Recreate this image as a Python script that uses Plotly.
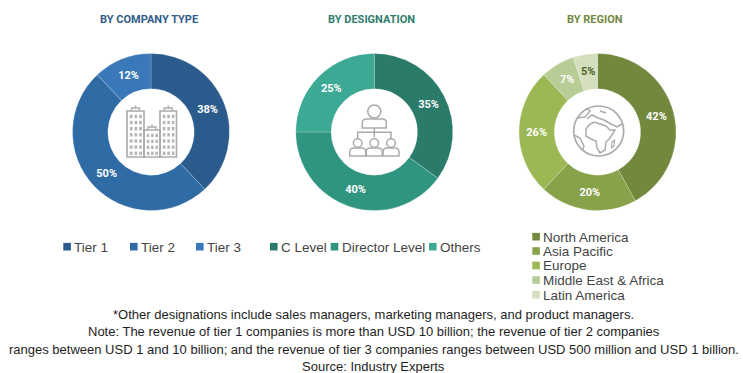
import math
import plotly.graph_objects as go

W, H = 743, 373

# ---- data ----
company_labels = ["Tier 1", "Tier 2", "Tier 3"]
company_values = [38, 50, 12]
company_colors = ["#2A5B8C", "#2F6BA5", "#3979B9"]

designation_labels = ["C Level", "Director Level", "Others"]
designation_values = [35, 40, 25]
designation_colors = ["#2A7B69", "#2F9580", "#3CA994"]

region_labels = ["North America", "Asia Pacific", "Europe", "Middle East & Africa", "Latin America"]
region_values = [42, 20, 26, 7, 5]
region_colors = ["#71883D", "#87A249", "#9BB854", "#B8CC95", "#D3DFBD"]
region_text_colors = ["white", "white", "white", "white", "#4F5F2C"]

titles = ["BY COMPANY TYPE", "BY DESIGNATION", "BY REGION"]
title_colors = ["#2F5C8A", "#2E7D6D", "#71883F"]

notes = [
    "*Other designations include sales managers, marketing managers, and product managers.",
    "Note: The revenue of tier 1 companies is more than USD 10 billion; the revenue of tier 2 companies",
    "ranges between USD 1 and 10 billion; and the revenue of tier 3 companies ranges between USD 500 million and USD 1 billion.",
    "Source: Industry Experts",
]

# ---- layout helpers ----
def px(x): return x / W
def py(y): return 1 - y / H
def P(x, y): return f"{px(x):.5f} {py(y):.5f}"

shapes, annotations = [], []
ICON = "#ABABAB"

def text(x, y, s, size, color, family, anchor="center", bold=False):
    annotations.append(dict(
        x=px(x), y=py(y), xref="paper", yref="paper", text=f"<b>{s}</b>" if bold else s,
        showarrow=False, xanchor=anchor, yanchor="middle",
        font=dict(size=size, color=color, family=family), borderpad=0, borderwidth=0))

def rect(x0, y0, x1, y1, fill=None, line=None, lw=1.6):
    shapes.append(dict(type="rect", xref="paper", yref="paper", x0=px(x0), x1=px(x1), y0=py(y0), y1=py(y1),
                       fillcolor=fill if fill else "rgba(0,0,0,0)",
                       line=dict(color=line if line else "rgba(0,0,0,0)", width=lw if line else 0)))

def path(points, color=ICON, lw=1.5, fill=None):
    d = "M" + " L".join(P(x, y) for x, y in points)
    shapes.append(dict(type="path", xref="paper", yref="paper", path=d,
                       line=dict(color=color, width=lw),
                       fillcolor=fill if fill else "rgba(0,0,0,0)"))

def curve(d_tokens, color=ICON, lw=1.5):
    out = []
    for c, vals in d_tokens:
        pts = [P(vals[i], vals[i + 1]) for i in range(0, len(vals), 2)]
        out.append(c + " ".join(pts))
    shapes.append(dict(type="path", xref="paper", yref="paper", path=" ".join(out),
                       line=dict(color=color, width=lw), fillcolor="rgba(0,0,0,0)"))

def circle(cx, cy, r, color=ICON, lw=1.5):
    shapes.append(dict(type="circle", xref="paper", yref="paper",
                       x0=px(cx - r), x1=px(cx + r), y0=py(cy + r), y1=py(cy - r),
                       line=dict(color=color, width=lw), fillcolor="rgba(0,0,0,0)"))

# ---- donuts ----
CY, R = 132, 78.5
HOLE = 0.55
centers = [151, 374.3, 597.5]
PF = "Roboto, Arial"
PS = 11

def donut(cx, labels, values, colors, tcolors=None, skip=()):
    positions = ["none" if i in skip else "inside" for i in range(len(values))]
    return go.Pie(
        labels=labels, values=values, hole=HOLE, sort=False, direction="clockwise", rotation=0,
        domain=dict(x=[px(cx - R), px(cx + R)], y=[py(CY + R), py(CY - R)]),
        marker=dict(colors=colors, line=dict(color="rgba(255,255,255,0.35)", width=0.6)),
        texttemplate="<b>%{value}%</b>", textposition=positions, insidetextorientation="horizontal",
        textfont=dict(family=PF, size=PS, color=tcolors or "white"),
        hoverinfo="label+percent", showlegend=False)

# The two narrow region slices get their labels at mid-ring, from their values,
# because the pie's own fitting pushes them towards the rim.
narrow = (3, 4)
fig = go.Figure([
    donut(centers[0], company_labels, company_values, company_colors),
    donut(centers[1], designation_labels, designation_values, designation_colors),
    donut(centers[2], region_labels, region_values, region_colors, region_text_colors, skip=narrow),
])
mid_r = R * (1 + HOLE) / 2
total = sum(region_values)
for i in narrow:
    frac = (sum(region_values[:i]) + region_values[i] / 2) / total
    a = 2 * math.pi * frac
    text(centers[2] + mid_r * math.sin(a), CY - mid_r * math.cos(a), f"{region_values[i]}%",
         PS, region_text_colors[i], PF, bold=True)

# ---- titles ----
TF = "Roboto, Arial"
for x, s, c in zip([149, 371.7, 595], titles, title_colors):
    text(x, 19.5, s, 11, c, TF, bold=True)

# ---- legends ----
LF = "'Liberation Sans', Arial"
LC = "#444444"
def legend_item(x, y, label, color):
    rect(x, y - 3.8, x + 7.6, y + 3.8, fill=color)
    text(x + 10.8, y + 0.3, label, 13.5, LC, LF, anchor="left")

for x, l, c in zip([63.3, 130, 196], company_labels, company_colors):
    legend_item(x, 246.7, l, c)
for x, l, c in zip([270, 330.7, 429], designation_labels, designation_colors):
    legend_item(x, 246.7, l, c)
for y, l, c in zip([236.7, 251, 265.5, 280, 294.7], region_labels, region_colors):
    legend_item(532.3, y, l, c)

# ---- notes ----
for y, s in zip([314, 331, 349, 366], notes):
    text(373.5, y, s, 13, "#1E1E1E", "'Liberation Sans', Arial")

# ---- icon: buildings ----
def tower(x0, x1, y0, y1, cols, rows):
    rect(x0, y0, x1, y1, line=ICON, lw=1.6)
    cw = (x1 - x0 - 3) / cols
    ch = (y1 - y0 - 3) / rows
    for i in range(cols):
        for j in range(rows):
            wx = x0 + 2 + cw * i + cw * 0.18
            wy = y0 + 2.5 + ch * j + ch * 0.2
            rect(wx, wy, wx + cw * 0.58, wy + ch * 0.55, fill="#B5B5B5")
    mx = (x0 + x1) / 2
    path([(mx - 4, y0), (mx - 4, y0 - 3), (mx + 4, y0 - 3), (mx + 4, y0)], lw=1.3)
    path([(mx, y0 - 3), (mx, y0 - 5.5)], lw=1.3)

tower(127, 144, 111, 157, 3, 7)
tower(144, 160, 130, 157, 3, 4)
tower(160, 176.5, 111, 157, 3, 7)

# ---- icon: hierarchy of people ----
def person(cx, head_y, hr, top, bottom, hw):
    circle(cx, head_y, hr)
    curve([("M", [cx - hw, bottom]), ("L", [cx - hw, top + 4]),
           ("Q", [cx - hw, top, cx - hw + 4, top]), ("L", [cx + hw - 4, top]),
           ("Q", [cx + hw, top, cx + hw, top + 4]), ("L", [cx + hw, bottom]), ("Z", [])])

person(374.3, 111.5, 6.5, 119, 128, 12)
path([(374.3, 128), (374.3, 137)])
path([(357.7, 138), (357.7, 132.3), (391, 132.3), (391, 138)])
for cx in (357.7, 374.3, 391):
    person(cx, 143, 4.3, 148, 156, 8)

# ---- icon: globe ----
GX, GY = 598.7, 131
circle(GX, GY, 25, lw=1.7)
path([(589, 125), (594, 122), (600, 124), (606, 126), (610, 130), (615, 130), (610, 138), (606, 142),
      (605, 150), (600, 153), (597, 148), (596, 141), (591, 139), (586, 136), (586, 129), (589, 125)], lw=1.5)
path([(587, 119), (592, 115), (598, 118), (604, 120), (611, 124), (617, 127), (622, 124)], lw=1.5)
path([(577, 118), (585, 117), (590, 111), (586, 108)], lw=1.5)
path([(574, 135), (580, 138), (584, 146), (582, 151)], lw=1.5)
path([(600, 111), (606, 113)], lw=1.5)
path([(612, 142), (614.5, 140), (614, 146), (611.5, 148), (612, 142)], lw=1.2)

fig.update_layout(
    width=W, height=H, autosize=False,
    margin=dict(l=0, r=0, t=0, b=0),
    paper_bgcolor="white", plot_bgcolor="white",
    shapes=shapes, annotations=annotations,
)
fig.write_html("out.html", config=dict(displayModeBar=False),
               post_script="document.body.style.margin='0';document.body.style.overflow='hidden';")
